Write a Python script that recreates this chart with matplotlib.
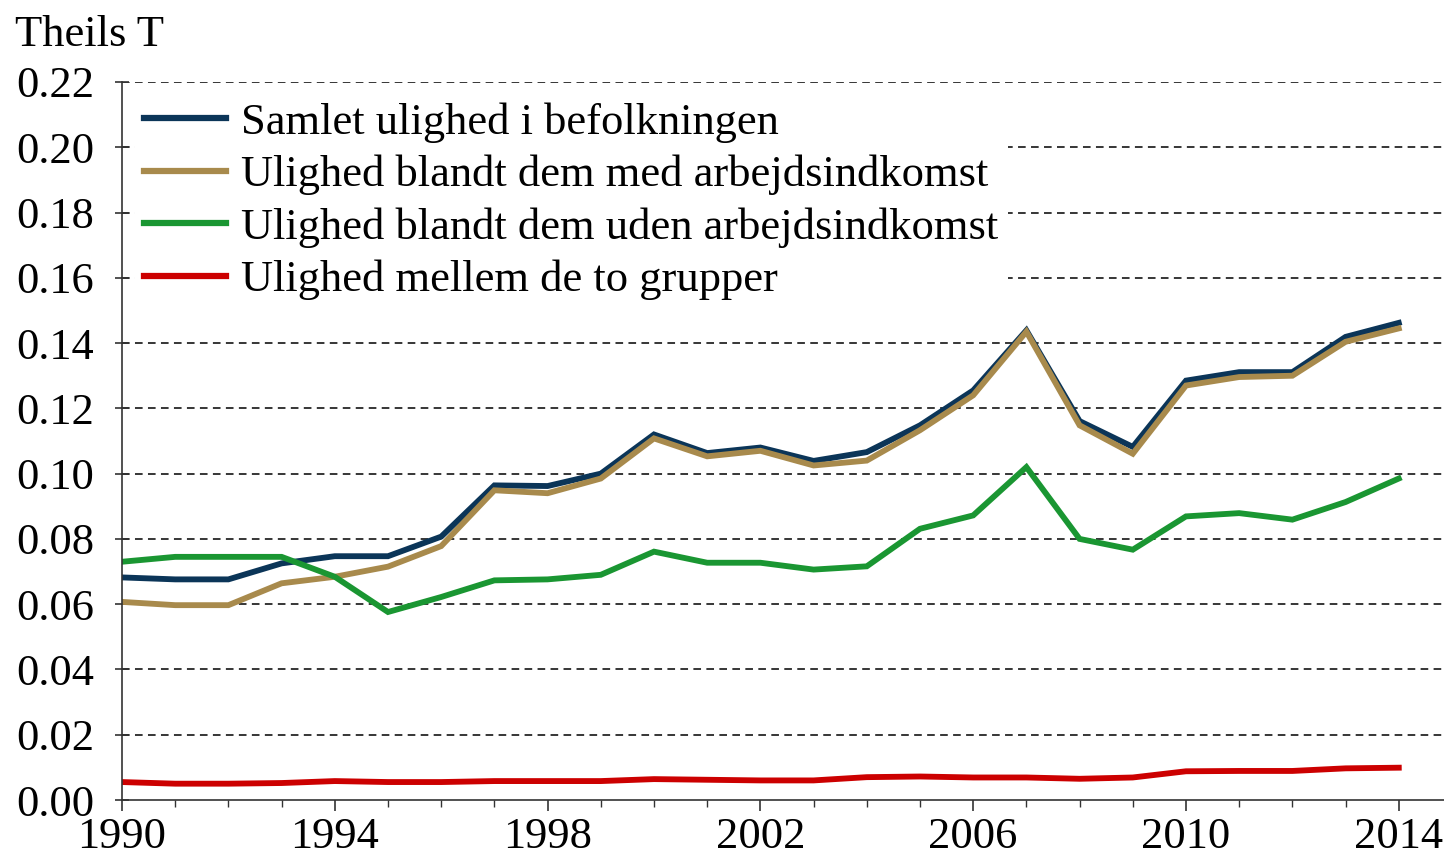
import matplotlib
matplotlib.use("Agg")
import matplotlib.pyplot as plt
from matplotlib.ticker import FixedLocator, MultipleLocator, FormatStrFormatter
import numpy as np

plt.rcParams['font.family'] = ['Liberation Serif', 'DejaVu Serif']

years = list(range(1990, 2015))

samlet = [0.0682, 0.0676, 0.0676, 0.0725, 0.0747, 0.0747, 0.0807, 0.0964, 0.0962, 0.1000,
          0.1120, 0.1063, 0.1080, 0.1039, 0.1066, 0.1148, 0.1255, 0.1439, 0.1161, 0.1082,
          0.1285, 0.1311, 0.1311, 0.1419, 0.1462]
med_arb = [0.0607, 0.0597, 0.0597, 0.0664, 0.0684, 0.0715, 0.0778, 0.0949, 0.0940, 0.0985,
           0.1108, 0.1053, 0.1070, 0.1025, 0.1040, 0.1133, 0.1240, 0.1435, 0.1148, 0.1061,
           0.1270, 0.1296, 0.1300, 0.1404, 0.1445]
uden_arb = [0.0730, 0.0745, 0.0745, 0.0745, 0.0684, 0.0576, 0.0622, 0.0673, 0.0676, 0.0690,
            0.0761, 0.0727, 0.0727, 0.0706, 0.0716, 0.0831, 0.0872, 0.1020, 0.0800, 0.0767,
            0.0869, 0.0879, 0.0859, 0.0913, 0.0985]
mellem = [0.0055, 0.0050, 0.0050, 0.0052, 0.0058, 0.0055, 0.0055, 0.0058, 0.0058, 0.0058,
          0.0064, 0.0062, 0.0060, 0.0060, 0.0070, 0.0072, 0.0069, 0.0069, 0.0065, 0.0069,
          0.0088, 0.0089, 0.0089, 0.0097, 0.0099]

labels = ["Samlet ulighed i befolkningen",
          "Ulighed blandt dem med arbejdsindkomst",
          "Ulighed blandt dem uden arbejdsindkomst",
          "Ulighed mellem de to grupper"]
colors = ["#0b3558", "#a88a4c", "#1a9632", "#cc0000"]

fig = plt.figure(figsize=(14.44, 8.58), dpi=100)
ax = fig.add_axes([122 / 1444, 1 - 800 / 858, 1 - 122 / 1444, (800 - 82) / 858])

for ys, lab, c in zip([samlet, med_arb, uden_arb, mellem], labels, colors):
    ax.plot(years, ys, color=c, lw=4.2, label=lab, solid_joinstyle='miter')

ax.set_xlim(1990, 2014.85)
ax.set_ylim(0, 0.22)
ax.xaxis.set_major_locator(FixedLocator(range(1990, 2015, 4)))
ax.xaxis.set_minor_locator(MultipleLocator(1))
ax.yaxis.set_major_locator(MultipleLocator(0.02))
ax.yaxis.set_major_formatter(FormatStrFormatter('%.2f'))

for y in np.arange(0.02, 0.2201, 0.02):
    ax.axhline(y, color='black', lw=1.1, ls=(0, (5, 3.5)), zorder=0)

for s in ['top', 'right']:
    ax.spines[s].set_visible(False)
for s in ['left', 'bottom']:
    ax.spines[s].set_linewidth(1.2)
    ax.spines[s].set_color('#333333')

ax.tick_params(axis='y', which='major', direction='inout', length=10, width=1.2,
               labelsize=32, pad=15, color='#333333')
ax.tick_params(axis='x', which='major', direction='out', length=8, width=1.2,
               labelsize=32, pad=4, color='#333333')
ax.tick_params(axis='x', which='minor', direction='out', length=5, width=1.0, color='#333333')

fig.text(15 / 1444, 1 - 35 / 858, "Theils T", fontsize=32, ha='left', va='center')

leg = ax.legend(loc='upper left', bbox_to_anchor=(0.010, 0.984), borderaxespad=0,
                fontsize=32, frameon=True, handlelength=1.85, handletextpad=0.34,
                labelspacing=0.27, borderpad=0.2, fancybox=False, edgecolor='none',
                framealpha=1.0)
for line in leg.get_lines():
    line.set_linewidth(4.5)

fig.savefig("out.png", dpi=100)
